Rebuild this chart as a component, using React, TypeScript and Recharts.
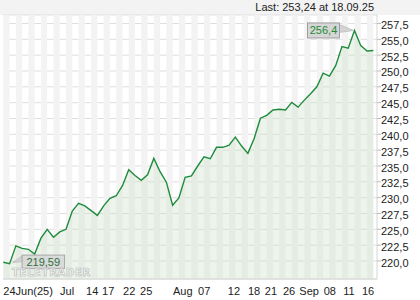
import React from "react";
import {
  ComposedChart,
  Area,
  XAxis,
  YAxis,
  CartesianGrid,
  ReferenceArea,
  ReferenceDot,
} from "recharts";

// Daily closing prices, 24 Jun 2025 .. 18 Sep 2025
const prices: number[] = [
  219.8, 219.59, 222.4, 222.0, 221.85, 221.1, 223.6, 225.0, 223.75, 224.6,
  225.0, 227.9, 229.1, 228.7, 227.95, 227.2, 228.7, 229.9, 230.3, 231.9,
  234.4, 233.5, 232.75, 233.6, 236.2, 234.1, 232.45, 228.8, 229.95, 233.2,
  233.45, 235.0, 236.45, 236.15, 237.95, 237.95, 238.3, 239.55, 238.15, 237.0,
  239.35, 242.55, 243.0, 243.85, 243.95, 243.85, 245.05, 244.3, 245.4, 246.4,
  247.5, 249.65, 249.2, 250.85, 253.85, 253.6, 256.4, 254.0, 253.15, 253.24,
];

// x-axis labels and their positions (in trading-day index units)
const tickPositions: number[] = [
  0, 9.05, 13.2, 15.75, 19.1, 21.8, 27.06, 31.05, 35.8, 39.0, 41.7, 44.6,
  47.2, 51.1, 54.2, 57.2,
];
const tickLabels: string[] = [
  "24Jun(25)", "Jul", "14", "17", "22", "25", "Aug", "07", "12", "18", "21",
  "26", "Sep", "08", "11", "16",
];

const yTicks: number[] = [
  220, 222.5, 225, 227.5, 230, 232.5, 235, 237.5, 240, 242.5, 245, 247.5, 250,
  252.5, 255, 257.5,
];

const lastDate = "18.09.25";
const lastValue = 253.24;
const yDomain: [number, number] = [217.16, 258.84];
const xDomain: [number, number] = [-0.05, 59.59];

const FONT = "'Liberation Sans', Arial, sans-serif";
const comma = (v: number) => String(v).replace(".", ",");

const data = prices.map((p, i) => ({ i, p }));
const dayTicks = prices.map((_, i) => i);
const stripes = prices.map((_, i) => i).filter((i) => i % 2 === 0);

let maxIdx = 0;
let minIdx = 0;
prices.forEach((p, i) => {
  if (p > prices[maxIdx]) maxIdx = i;
  if (p < prices[minIdx]) minIdx = i;
});

const LabelTick = (props: any) => {
  const { x, y, index } = props;
  return (
    <text
      x={x}
      y={y + 11.5}
      textAnchor="start"
      fontFamily={FONT}
      fontSize={11}
      fill="#222"
    >
      {tickLabels[index]}
    </text>
  );
};

const YTick = (props: any) => {
  const { x, y, payload } = props;
  return (
    <text
      x={x}
      y={y + 5.5}
      textAnchor="start"
      fontFamily={FONT}
      fontSize={11}
      fill="#222"
    >
      {Number(payload.value).toFixed(1).replace(".", ",")}
    </text>
  );
};

const MaxShape = (props: any) => {
  const { cx, cy } = props;
  if (cx == null || cy == null) return null;
  return (
    <g>
      <polygon
        points={`${cx - 15},${cy - 6} ${cx - 1},${cy} ${cx - 15},${cy + 2}`}
        fill="#d4d4d4"
        stroke="#b0b0b0"
        strokeWidth={0.6}
      />
      <rect
        x={cx - 47}
        y={cy - 7.5}
        width={32}
        height={15}
        fill="#d6d6d6"
        stroke="#9e9e9e"
        strokeWidth={1}
      />
      <text
        x={cx - 31}
        y={cy + 4}
        textAnchor="middle"
        fontFamily={FONT}
        fontSize={11}
        fill="#1d8a35"
      >
        {comma(prices[maxIdx])}
      </text>
    </g>
  );
};

const MinShape = (props: any) => {
  const { cx, cy } = props;
  if (cx == null || cy == null) return null;
  return (
    <g>
      <polygon
        points={`${cx + 3},${cy - 1} ${cx + 12.5},${cy - 7.5} ${cx + 12.5},${cy - 2}`}
        fill="#d4d4d4"
        stroke="#b0b0b0"
        strokeWidth={0.6}
      />
      <rect
        x={cx + 12.5}
        y={cy - 8.5}
        width={42.5}
        height={13.3}
        fill="rgba(214,214,214,0.85)"
        stroke="#a8a8a8"
        strokeWidth={1}
      />
      <text
        x={cx + 33.7}
        y={cy + 2}
        textAnchor="middle"
        fontFamily={FONT}
        fontSize={11}
        fill="#2f6f40"
      >
        {comma(prices[minIdx])}
      </text>
    </g>
  );
};

export default function App() {
  return (
    <div style={{ position: "relative", width: 420, height: 300, background: "#fff" }}>
      <style>{"body{margin:0}"}</style>
      <div
        style={{
          position: "absolute",
          left: 0,
          top: 0,
          width: 420,
          height: 15,
          background: "#f3f3f3",
        }}
      />
      <ComposedChart
        width={420}
        height={300}
        data={data}
        margin={{ top: 15, right: 0, bottom: 0, left: 3 }}
        style={{ position: "absolute", left: 0, top: 0 }}
      >
        {stripes.map((s) => (
          <ReferenceArea
            key={s}
            x1={s}
            x2={s + 1}
            fill="#f3f3f3"
            fillOpacity={1}
            stroke="none"
            ifOverflow="hidden"
          />
        ))}
        <CartesianGrid vertical={false} stroke="#dedede" strokeWidth={1} />
        <XAxis
          dataKey="i"
          type="number"
          domain={xDomain}
          allowDataOverflow
          ticks={dayTicks}
          interval={0}
          tick={false}
          tickLine={{ stroke: "#cfcfcf" }}
          tickSize={3}
          axisLine={{ stroke: "#d6d6d6" }}
          height={4}
        />
        <XAxis
          xAxisId="labels"
          dataKey="i"
          type="number"
          domain={xDomain}
          allowDataOverflow
          ticks={tickPositions}
          interval={0}
          tick={<LabelTick />}
          tickLine={false}
          tickSize={0}
          tickMargin={0}
          axisLine={false}
          height={17}
        />
        <YAxis
          orientation="right"
          type="number"
          domain={yDomain}
          allowDataOverflow
          ticks={yTicks}
          interval={0}
          width={43}
          tickSize={4}
          tickMargin={0}
          tickLine={{ stroke: "#bdbdbd" }}
          axisLine={{ stroke: "#d6d6d6" }}
          tick={<YTick />}
        />
        <Area
          type="linear"
          dataKey="p"
          stroke="#1e8c3c"
          strokeWidth={1.4}
          fill="#c8e0c8"
          fillOpacity={0.35}
          baseValue={yDomain[0]}
          dot={false}
          activeDot={false}
          isAnimationActive={false}
        />
        <ReferenceDot
          x={maxIdx}
          y={prices[maxIdx]}
          r={0}
          shape={<MaxShape />}
          ifOverflow="visible"
        />
        <ReferenceDot
          x={minIdx}
          y={prices[minIdx]}
          r={0}
          shape={<MinShape />}
          ifOverflow="visible"
        />
      </ComposedChart>
      <div
        style={{
          position: "absolute",
          right: 46,
          top: 0,
          fontFamily: FONT,
          fontSize: 11,
          lineHeight: "14px",
          color: "#222",
          whiteSpace: "nowrap",
        }}
      >
        {`Last: ${comma(lastValue)} at ${lastDate}`}
      </div>
      <div
        style={{
          position: "absolute",
          left: 12,
          top: 266,
          fontFamily: "'DejaVu Sans', sans-serif",
          fontSize: 10,
          fontWeight: "bold",
          letterSpacing: 0.7,
          color: "rgba(255,255,255,0.6)",
          WebkitTextStroke: "0.6px #b5b5b5",
          whiteSpace: "nowrap",
          lineHeight: "13px",
        }}
      >
        TELETRADER
      </div>
    </div>
  );
}
